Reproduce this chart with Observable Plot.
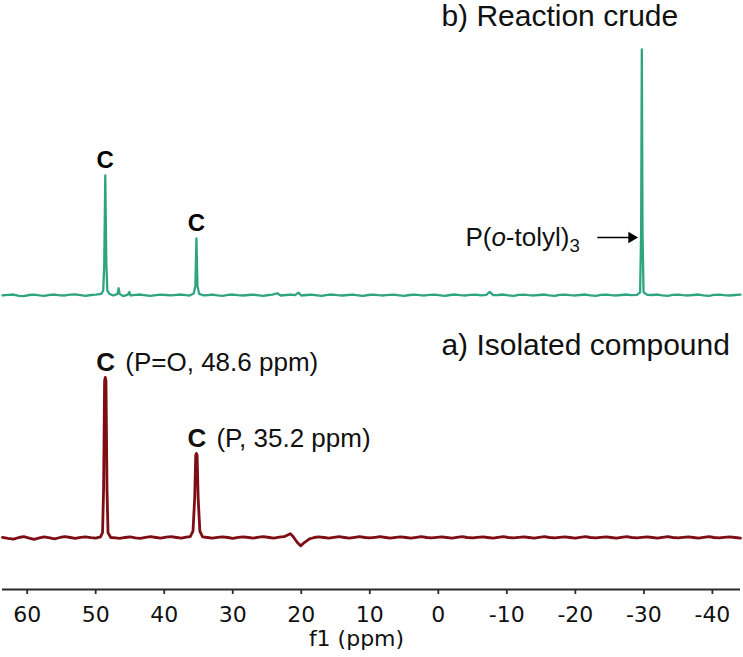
<!DOCTYPE html>
<html>
<head>
<meta charset="utf-8">
<script src="https://cdn.jsdelivr.net/npm/d3@7"></script>
<script src="https://cdn.jsdelivr.net/npm/@observablehq/plot@0.6"></script>
<style>
  html, body { margin: 0; padding: 0; background: #fff; }
  #chart svg { display: block; }
</style>
</head>
<body>
<div id="chart"></div>
<script>
// ---- data ----
const xTicks = [60, 50, 40, 30, 20, 10, 0, -10, -20, -30, -40];

// b) Reaction crude (green trace), chemical shift (ppm) and relative intensity
const greenPpm = [63.6, 62.8, 62.0, 61.2, 60.5, 59.7, 59.0, 58.2, 57.5, 56.7, 56.0, 55.2, 54.5, 53.7, 53.0, 52.2, 51.5, 50.7, 50.0, 49.2, 48.9, 48.75, 48.6, 48.45, 48.3, 48.0, 47.4, 46.8, 46.65, 46.5, 46.0, 45.3, 45.1, 44.9, 44.2, 43.5, 42.7, 42.0, 41.2, 40.5, 39.7, 39.0, 38.2, 37.5, 36.8, 36.3, 35.7, 35.45, 35.3, 35.15, 34.9, 34.2, 33.5, 33.0, 32.2, 31.5, 30.7, 30.0, 29.2, 28.5, 27.7, 27.0, 26.2, 25.5, 24.8, 24.2, 23.5, 23.0, 22.2, 21.5, 20.9, 20.4, 20.0, 19.2, 18.5, 17.7, 17.0, 16.2, 15.5, 14.7, 14.0, 13.2, 12.5, 11.7, 11.0, 10.2, 9.5, 8.7, 8.0, 7.2, 6.5, 5.7, 5.0, 4.2, 3.5, 2.7, 2.0, 1.2, 0.5, -0.3, -1.0, -1.7, -2.5, -3.2, -4.0, -4.7, -5.5, -6.2, -7.0, -7.5, -8.0, -8.7, -9.5, -10.2, -11.0, -11.7, -12.5, -13.2, -14.0, -14.7, -15.5, -16.2, -17.0, -17.7, -18.5, -19.2, -20.0, -20.7, -21.5, -22.2, -23.0, -23.7, -24.5, -25.2, -26.0, -26.7, -27.5, -28.2, -29.0, -29.45, -29.6, -29.7, -29.8, -29.95, -30.5, -31.2, -32.0, -32.7, -33.5, -34.2, -35.0, -35.7, -36.5, -37.2, -38.0, -38.7, -39.5, -40.2, -41.0, -41.7, -42.5, -43.3, -44.1];
const greenInt = [0.000, 0.004, 0.006, -0.002, -0.004, 0.003, 0.005, 0.000, -0.003, 0.004, 0.006, 0.001, 0.000, 0.005, 0.007, 0.002, -0.002, 0.003, 0.005, 0.010, 0.030, 0.200, 0.750, 0.200, 0.030, 0.010, 0.000, 0.010, 0.045, 0.010, -0.004, 0.005, 0.022, 0.000, 0.004, 0.006, 0.001, -0.003, 0.002, 0.005, 0.003, 0.000, 0.004, 0.006, 0.002, 0.000, 0.012, 0.060, 0.356, 0.060, 0.010, 0.000, 0.003, 0.006, 0.001, -0.002, 0.004, 0.006, 0.002, 0.000, 0.003, 0.005, 0.001, -0.003, 0.003, 0.006, 0.014, 0.000, 0.003, 0.006, 0.002, 0.018, 0.000, 0.003, 0.005, 0.001, -0.002, 0.004, 0.006, 0.002, 0.000, 0.003, 0.005, 0.001, -0.003, 0.003, 0.006, 0.002, 0.000, 0.004, 0.005, 0.001, -0.002, 0.003, 0.006, 0.002, 0.000, 0.004, 0.005, 0.001, -0.002, 0.003, 0.006, 0.002, 0.000, 0.004, 0.005, 0.001, 0.004, 0.022, 0.002, 0.003, 0.006, 0.001, -0.002, 0.004, 0.005, 0.002, 0.000, 0.003, 0.006, 0.001, -0.002, 0.004, 0.005, 0.002, 0.000, 0.003, 0.006, 0.001, -0.002, 0.004, 0.005, 0.002, 0.000, 0.003, 0.006, 0.002, 0.004, 0.020, 0.400, 1.5375, 0.400, 0.020, 0.004, 0.003, 0.006, 0.001, -0.002, 0.004, 0.005, 0.002, 0.000, 0.003, 0.006, 0.001, -0.002, 0.004, 0.005, 0.002, 0.000, 0.003, 0.005];

// a) Isolated compound (dark red trace)
const redPpm = [63.6, 62.8, 62.0, 61.2, 60.5, 59.7, 59.0, 58.2, 57.5, 56.7, 56.0, 55.2, 54.5, 53.7, 53.0, 52.2, 51.5, 50.7, 50.0, 49.3, 49.0, 48.85, 48.7, 48.6, 48.5, 48.35, 48.2, 47.8, 47.1, 46.5, 45.7, 45.0, 44.2, 43.5, 42.7, 42.0, 41.2, 40.5, 39.7, 39.0, 38.2, 37.5, 36.8, 36.2, 35.8, 35.55, 35.4, 35.3, 35.2, 35.05, 34.8, 34.4, 33.7, 33.0, 32.2, 31.5, 30.7, 30.0, 29.2, 28.5, 27.7, 27.0, 26.2, 25.5, 24.7, 24.0, 23.2, 22.5, 21.6, 21.2, 20.6, 20.1, 19.5, 18.8, 18.1, 17.5, 16.7, 16.0, 15.2, 14.5, 13.7, 13.0, 12.2, 11.5, 10.7, 10.0, 9.2, 8.5, 7.7, 7.0, 6.2, 5.5, 4.7, 4.0, 3.2, 2.5, 1.7, 1.0, 0.2, -0.5, -1.2, -2.0, -2.7, -3.5, -4.2, -5.0, -5.7, -6.5, -7.2, -8.0, -8.7, -9.5, -10.2, -11.0, -11.7, -12.5, -13.2, -14.0, -14.7, -15.5, -16.2, -17.0, -17.7, -18.5, -19.2, -20.0, -20.7, -21.5, -22.2, -23.0, -23.7, -24.5, -25.2, -26.0, -26.7, -27.5, -28.2, -29.0, -29.7, -30.5, -31.2, -32.0, -32.7, -33.5, -34.2, -35.0, -35.7, -36.5, -37.2, -38.0, -38.7, -39.5, -40.2, -41.0, -41.7, -42.5, -43.3, -44.1];
const redInt = [0.000, -0.006, -0.010, 0.000, 0.005, -0.004, -0.012, -0.003, 0.004, -0.002, -0.008, 0.000, 0.006, 0.000, -0.005, 0.001, 0.004, -0.001, -0.004, 0.004, 0.030, 0.300, 0.980, 1.000, 0.980, 0.300, 0.030, 0.000, -0.003, -0.006, 0.000, 0.004, -0.002, -0.005, 0.001, 0.005, 0.000, -0.004, 0.002, 0.005, 0.000, -0.004, 0.002, 0.006, 0.040, 0.250, 0.515, 0.525, 0.515, 0.250, 0.040, 0.004, 0.000, -0.004, 0.001, 0.004, 0.000, -0.005, 0.001, 0.004, 0.000, -0.004, 0.002, 0.005, 0.000, -0.004, 0.002, 0.005, 0.024, 0.006, -0.030, -0.052, -0.030, -0.008, 0.000, 0.004, 0.000, -0.004, 0.001, 0.005, 0.000, -0.004, 0.001, 0.005, 0.000, -0.003, 0.001, 0.005, 0.000, -0.004, 0.001, 0.004, 0.000, -0.004, 0.001, 0.005, 0.000, -0.003, 0.001, 0.004, 0.000, -0.004, 0.001, 0.005, 0.000, -0.003, 0.001, 0.004, 0.000, -0.004, 0.001, 0.005, 0.000, -0.003, 0.001, 0.004, 0.000, -0.004, 0.001, 0.005, 0.000, -0.003, 0.001, 0.004, 0.000, -0.004, 0.001, 0.005, 0.000, -0.003, 0.001, 0.004, 0.000, -0.004, 0.001, 0.005, 0.000, -0.003, 0.001, 0.004, 0.000, -0.004, 0.001, 0.005, 0.000, -0.003, 0.001, 0.004, 0.000, -0.004, 0.001, 0.005, 0.000, -0.003, 0.001, 0.004, 0.000, -0.004, 0.001, 0.000];

// vertical stacking of the two spectra (green sits above red)
const greenOffset = 1.5125;

// peak annotations
const greenPeakPpm = [48.6, 35.3];
const greenPeakInt = [0.750, 0.356];
const redPeakPpm = [48.6, 35.3];
const redPeakInt = [1.000, 0.525];
const redPeakText = ["C (P=O, 48.6 ppm)", "C (P, 35.2 ppm)"];
const ligandPpm = -29.7;
const ligandText = "P(o-tolyl)3";
const spectrumTitles = ["b) Reaction crude", "a) Isolated compound"];
const axisLabel = "f1 (ppm)";

// ---- build tables ----
const green = greenPpm.map((p, i) => ({ppm: p, v: greenInt[i] + greenOffset}));
const red = redPpm.map((p, i) => ({ppm: p, v: redInt[i]}));
const greenLabels = greenPeakPpm.map((p, i) => ({ppm: p, v: greenPeakInt[i] + greenOffset}));
const redLabels = redPeakPpm.map((p, i) => ({ppm: p, v: redPeakInt[i], text: redPeakText[i]}));

const GREEN = "#2fa57f";
const RED = "#7d0e14";
const yMin = -0.325, yMax = 3.356;
const arrowY = greenOffset + 0.3625;

const chart = Plot.plot({
  width: 743,
  height: 657,
  marginLeft: 2,
  marginRight: 3,
  marginTop: 0,
  marginBottom: 68,
  style: {fontFamily: "'Liberation Sans', Arial, sans-serif", background: "#fff", overflow: "visible"},
  x: {domain: [63.6, -44.1]},
  y: {domain: [yMin, yMax], axis: null},
  marks: [
    Plot.ruleY([yMin], {stroke: "#2a2a2a", strokeWidth: 1.8}),
    Plot.axisX({
      ticks: xTicks,
      tickSize: 5,
      tickPadding: 12,
      fontSize: 22,
      fontFamily: "'DejaVu Sans', Verdana, sans-serif",
      stroke: "#2a2a2a",
      strokeWidth: 1.8,
      fill: "#111",
      tickFormat: d => (d < 0 ? "-" + Math.abs(d) : String(d)),
      label: null
    }),
    Plot.text([axisLabel], {
      frameAnchor: "bottom", dy: 56, fontSize: 22, fill: "#111",
      fontFamily: "'DejaVu Sans', Verdana, sans-serif", dx: -15
    }),
    Plot.line(green, {x: "ppm", y: "v", stroke: GREEN, strokeWidth: 2.3, curve: "linear"}),
    Plot.line(red, {x: "ppm", y: "v", stroke: RED, strokeWidth: 2.8, curve: "linear"}),
    // green "C" labels above peaks
    Plot.text(greenLabels, {x: "ppm", y: "v", text: () => "C", dy: -15, fontSize: 24, fontWeight: "bold", fill: "#000"}),
    // red labels
    Plot.text(redLabels, {x: "ppm", y: "v", text: "text", dy: -15, dx: -9, textAnchor: "start", fontSize: 26, fill: "#111"}),
    // ligand label with arrow
    Plot.text([ligandText], {x: ligandPpm, y: arrowY, dx: -62, textAnchor: "end", fontSize: 26, fill: "#111"}),
    Plot.link([ligandPpm], {x1: -23.2, x2: -28.0, y1: arrowY, y2: arrowY, stroke: "#000", strokeWidth: 1.6}),
    Plot.dot([ligandPpm], {x: -28.2, y: arrowY, symbol: "triangle", rotate: 90, r: 4.2, fill: "#000", stroke: "none"}),
    // spectrum titles
    Plot.text(spectrumTitles, {x: -0.45, y: (d, i) => (i === 0 ? 3.255 : 1.2), textAnchor: "start", fontSize: 30, fill: "#111"})
  ]
});

// rich text: bold "C", italic "o", subscript "3"
d3.select(chart).selectAll("text").each(function() {
  const t = d3.select(this);
  const s = this.textContent;
  if (s === ligandText) {
    t.text(null);
    t.append("tspan").text("P(");
    t.append("tspan").attr("font-style", "italic").text("o");
    t.append("tspan").text("-tolyl)");
    t.append("tspan").attr("font-size", "0.72em").attr("dy", "0.32em").text("3");
  } else if (redPeakText.includes(s)) {
    t.text(null);
    t.append("tspan").attr("font-weight", "bold").text("C");
    t.append("tspan").attr("dx", 3).text(s.slice(1));
  }
});

document.getElementById("chart").appendChild(chart);
</script>
</body>
</html>
